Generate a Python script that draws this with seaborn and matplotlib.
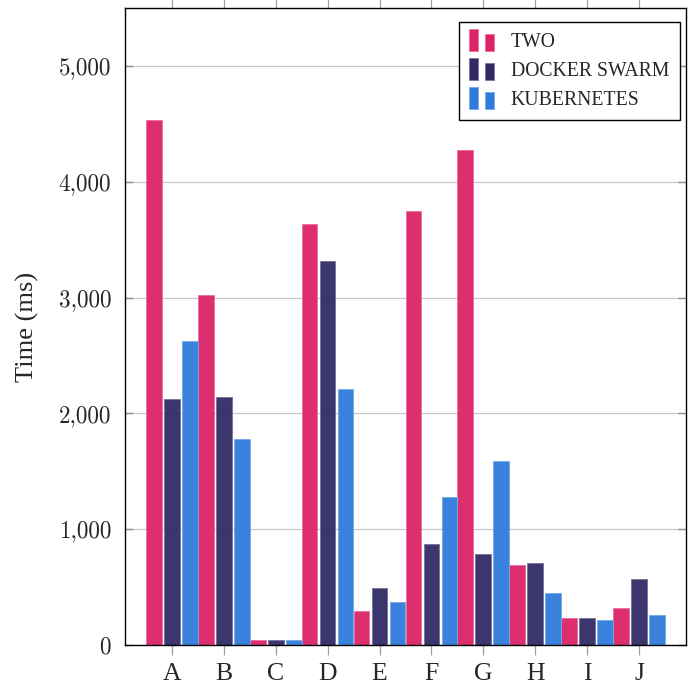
import matplotlib
matplotlib.use("Agg")
import matplotlib.pyplot as plt
import pandas as pd
import seaborn as sns
from matplotlib.patches import Rectangle
from matplotlib.legend_handler import HandlerBase
from matplotlib.colors import to_rgb

# values (ms)
categories = ["A", "B", "C", "D", "E", "F", "G", "H", "I", "J"]
two = [4530, 3020, 43, 3635, 293, 3745, 4270, 690, 236, 319]
docker_swarm = [2124, 2140, 46, 3314, 489, 876, 782, 710, 233, 569]
kubernetes = [2628, 1779, 40, 2210, 374, 1278, 1589, 451, 213, 261]
series_names = ["TWO", "DOCKER SWARM", "KUBERNETES"]
colors = ["#dc2367", "#302b65", "#2f7cdc"]
yticks = [0, 1000, 2000, 3000, 4000, 5000]

df = pd.DataFrame({"cat": categories, "TWO": two,
                   "DOCKER SWARM": docker_swarm, "KUBERNETES": kubernetes})
df = df.melt(id_vars="cat", var_name="series", value_name="time")

sns.set_style("white")
plt.rcParams["font.family"] = ["Liberation Serif", "DejaVu Serif"]


def lighter(c, f=0.35):
    r, g, b = to_rgb(c)
    return (r + (1 - r) * f, g + (1 - g) * f, b + (1 - b) * f)


class TwoBarHandler(HandlerBase):
    # pgfplots style legend image: two small bars
    def create_artists(self, legend, orig_handle, xdescent, ydescent,
                       width, height, fontsize, trans):
        fc = orig_handle.get_facecolor()
        ec = orig_handle.get_edgecolor()
        w = width * 0.33
        y0 = -ydescent - height * 0.3
        r1 = Rectangle((-xdescent, y0), w, height * 1.6, fc=fc, ec=ec, lw=0.6, transform=trans)
        r2 = Rectangle((-xdescent + width * 0.65, y0), w, height * 1.22, fc=fc, ec=ec, lw=0.6, transform=trans)
        return [r1, r2]


fig = plt.figure(figsize=(6.94, 6.87), dpi=100)
ax = fig.add_axes([0.180, 0.0611, 0.8085, 0.9273])

sns.barplot(data=df, x="cat", y="time", hue="series", hue_order=series_names,
            palette=colors, width=1.04, gap=0.13, alpha=0.95, legend=False,
            saturation=1, ax=ax, zorder=2)

for p in ax.patches:
    p.set_edgecolor(lighter(p.get_facecolor()[:3]))
    p.set_linewidth(0.7)

ax.set_xlim(-0.906, 9.906)
ax.set_ylim(0, 5500)
ax.set_yticks(yticks, labels=[f"{v:,}" for v in yticks], fontfamily="cmr10")
ax.grid(axis="y", color="#c8c8c8", lw=0.9, zorder=0)
ax.set_axisbelow(True)

ax.set_xlabel("")
ax.set_ylabel("Time (ms)", fontsize=19, labelpad=14)

ax.tick_params(axis="x", direction="out", length=7, width=0.9, color="#a0a0a0",
               top=True, bottom=True, labelsize=18.5, pad=6)
ax.tick_params(axis="y", direction="in", length=6, width=1.0, color="#909090",
               left=True, right=True, labelsize=16.7, pad=10)

for s in ax.spines.values():
    s.set_color("black")
    s.set_linewidth(1.0)

handles = [Rectangle((0, 0), 1, 1, fc=c, ec=lighter(c)) for c in colors]
leg = ax.legend(handles, series_names, handler_map={Rectangle: TwoBarHandler()},
                loc="upper right", bbox_to_anchor=(0.9893, 0.978), borderaxespad=0,
                fontsize=14.2, frameon=True, fancybox=False, framealpha=1,
                edgecolor="black", handlelength=1.25, handletextpad=0.85,
                labelspacing=0.5, borderpad=0.55)
leg.get_frame().set_linewidth(1.0)

fig.savefig("out.png", dpi=100)
